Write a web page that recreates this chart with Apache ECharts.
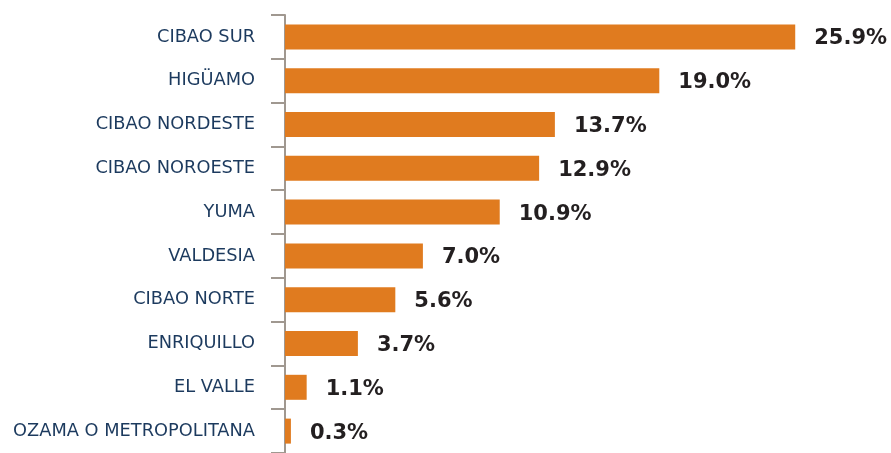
<!DOCTYPE html>
<html>
<head>
<meta charset="utf-8">
<script src="https://cdn.jsdelivr.net/npm/echarts@6/dist/echarts.min.js"></script>
<style>
  html, body { margin: 0; padding: 0; background: #fff; }
  #container { width: 891px; height: 453px; }
</style>
</head>
<body>
<div id="container"></div>
<script>
var regions = ['CIBAO SUR', 'HIGÜAMO', 'CIBAO NORDESTE', 'CIBAO NOROESTE', 'YUMA',
    'VALDESIA', 'CIBAO NORTE', 'ENRIQUILLO', 'EL VALLE', 'OZAMA O METROPOLITANA'];
var shares = [25.9, 19.0, 13.7, 12.9, 10.9, 7.0, 5.6, 3.7, 1.1, 0.3];

var myChart = echarts.init(document.getElementById('container'));

myChart.setOption({
    animation: false,
    grid: { left: 285, top: 15, width: 591, height: 443 },
    xAxis: {
        type: 'value',
        min: 0,
        max: 30,
        show: false
    },
    yAxis: {
        type: 'category',
        inverse: true,
        data: regions,
        axisLine: { show: true, lineStyle: { color: '#a09890', width: 2 } },
        axisTick: { show: true, length: 14, lineStyle: { color: '#a09890', width: 2 } },
        axisLabel: {
            margin: 30,
            color: '#1c3a5e',
            fontFamily: 'DejaVu Sans',
            fontSize: 17.8
        }
    },
    series: [{
        type: 'bar',
        data: shares,
        barWidth: 25,
        itemStyle: { color: '#e07b1f' },
        label: {
            show: true,
            position: 'right',
            distance: 19,
            offset: [0, 2],
            color: '#231f20',
            fontFamily: 'DejaVu Sans',
            fontWeight: 'bold',
            fontSize: 21,
            formatter: function (p) { return p.value.toFixed(1) + '%'; }
        }
    }]
});
</script>
</body>
</html>
